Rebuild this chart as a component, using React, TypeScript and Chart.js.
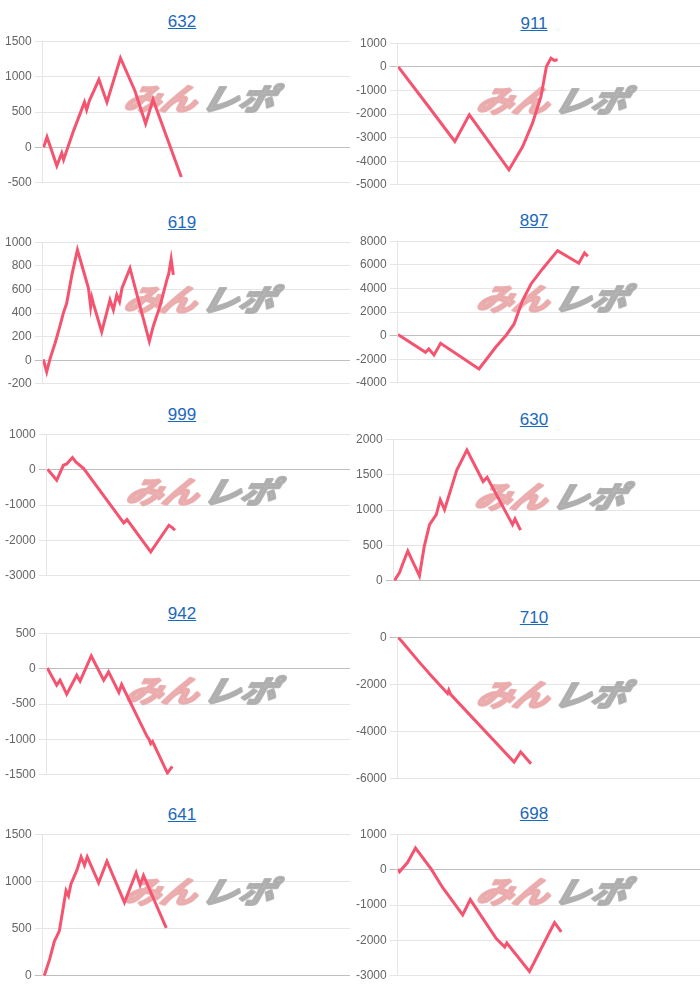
import React, { useEffect, useRef } from "react";
import { Chart, registerables } from "chart.js";

Chart.register(...registerables);

// x positions are expressed on a 0..1000 game-progress axis (shared x range)
const xs632 = [3, 14, 46, 62, 68, 100, 136, 143, 152, 183, 209, 253, 300, 335, 359, 451];
const v632 = [0, 146, -260, -80, -174, 230, 639, 530, 662, 958, 639, 1263, 800, 333, 676, -418];

const xs911 = [2, 100, 189, 237, 300, 368, 413, 446, 474, 492, 507, 518, 529];
const v911 = [0, -1650, -3163, -2033, -3150, -4363, -3389, -2386, -1257, 14, 367, 268, 296];

const xs619 = [2, 13, 24, 40, 54, 67, 78, 95, 113, 127, 149, 156, 160, 165, 192, 219, 230, 241, 250, 258, 284, 347, 360, 382, 404, 410, 418, 425];
const v619 = [6, -99, 14, 142, 270, 397, 482, 723, 936, 809, 610, 454, 530, 480, 241, 511, 426, 553, 496, 610, 780, 160, 290, 460, 681, 730, 857, 723];

const xs897 = [1, 92, 103, 120, 142, 269, 324, 358, 385, 413, 441, 479, 529, 599, 618, 629];
const v897 = [85, -1412, -1130, -1638, -650, -2824, -988, 0, 988, 2965, 4377, 5648, 7201, 6128, 7004, 6721];

const xs999 = [3, 33, 55, 66, 85, 96, 122, 215, 254, 265, 343, 403, 414, 423];
const v999 = [9, -301, 122, 160, 339, 216, 28, -1054, -1506, -1412, -2324, -1572, -1640, -1713];

const xs630 = [2, 19, 29, 46, 84, 100, 117, 139, 152, 166, 206, 239, 292, 305, 388, 396, 414];
const v630 = [0, 117, 234, 421, 70, 491, 794, 935, 1145, 1005, 1565, 1846, 1402, 1463, 794, 874, 715];

const xs942 = [2, 33, 44, 66, 99, 110, 147, 188, 204, 238, 247, 331, 337, 343, 349, 398, 414];
const v942 = [9, -234, -164, -361, -94, -178, 178, -164, -47, -337, -225, -960, -993, -1060, -1030, -1475, -1382];

const xs710 = [1, 14, 70, 114, 165, 169, 175, 385, 407, 441];
const v710 = [0, -184, -1035, -1673, -2382, -2240, -2420, -5289, -4864, -5360];

const xs641 = [5, 22, 38, 54, 76, 84, 92, 111, 125, 136, 145, 182, 209, 266, 304, 317, 328, 402];
const v641 = [0, 168, 365, 473, 902, 848, 974, 1117, 1260, 1171, 1260, 985, 1214, 777, 1092, 963, 1063, 508];

const xs698 = [0, 6, 33, 59, 111, 149, 215, 240, 326, 354, 361, 436, 503, 519, 541];
const v698 = [14, -62, 206, 608, 14, -512, -1277, -847, -1947, -2187, -2072, -2875, -1756, -1498, -1756];

const titles = ["632", "911", "619", "897", "999", "630", "942", "710", "641", "698"];
const yMins = [-500, -5000, -200, -4000, -3000, 0, -1500, -6000, 0, -3000];
const yMaxs = [1500, 1000, 1000, 8000, 1000, 2000, 500, 0, 1500, 1000];
const ySteps = [500, 1000, 200, 2000, 1000, 500, 500, 2000, 500, 1000];
const seriesX = [xs632, xs911, xs619, xs897, xs999, xs630, xs942, xs710, xs641, xs698];
const seriesY = [v632, v911, v619, v897, v999, v630, v942, v710, v641, v698];

// layout: plot tops and title centers per panel
const plotTops = [40.7, 43.3, 242.3, 240.7, 434, 439, 632.7, 637.3, 834.3, 834];
const titleYs = [21.7, 24, 222.7, 220.7, 415, 420, 614.3, 618.3, 815, 814.3];
const PLOT_H = 142;
const PAD = 10;

const watermark = {
  id: "watermark",
  beforeDatasetsDraw(chart: any) {
    const { ctx, chartArea } = chart;
    const cx = (chartArea.left + chartArea.right) / 2 + 4;
    const cy = (chartArea.top + chartArea.bottom) / 2 - 13;
    ctx.save();
    ctx.font = 'italic bold 30px "Noto Sans CJK JP"';
    const w1 = ctx.measureText("みん").width;
    const w2 = ctx.measureText("レポ").width;
    const gap = 4;
    const total = w1 + gap + w2;
    const sx = 150 / total;
    ctx.translate(cx, cy);
    ctx.scale(sx, 1);
    ctx.transform(1, 0, -0.22, 1, 0, 0);
    ctx.textBaseline = "middle";
    ctx.textAlign = "left";
    ctx.lineJoin = "round";
    ctx.lineWidth = 2.5;
    ctx.fillStyle = "rgba(234,168,170,0.9)";
    ctx.strokeStyle = "rgba(234,168,170,0.9)";
    ctx.fillText("みん", -total / 2, 0);
    ctx.strokeText("みん", -total / 2, 0);
    ctx.fillStyle = "rgba(172,172,172,0.9)";
    ctx.strokeStyle = "rgba(172,172,172,0.9)";
    ctx.fillText("レポ", -total / 2 + w1 + gap, 0);
    ctx.strokeText("レポ", -total / 2 + w1 + gap, 0);
    ctx.restore();
  },
};

function Panel({ idx }: { idx: number }) {
  const ref = useRef<HTMLCanvasElement | null>(null);
  useEffect(() => {
    if (!ref.current) return;
    const data = seriesX[idx].map((x, i) => ({ x, y: seriesY[idx][i] }));
    const chart = new Chart(ref.current, {
      type: "line",
      data: {
        datasets: [
          {
            data,
            borderColor: "rgb(244,84,112)",
            backgroundColor: "rgb(244,84,112)",
            borderWidth: 3,
            pointRadius: 0,
            tension: 0,
            fill: false,
          },
        ],
      },
      options: {
        animation: false,
        responsive: false,
        maintainAspectRatio: false,
        layout: { padding: { top: PAD, bottom: PAD, left: 0, right: 0 } },
        plugins: { legend: { display: false }, tooltip: { enabled: false }, title: { display: false } },
        scales: {
          x: { type: "linear", min: 0, max: 1000, display: false },
          y: {
            min: yMins[idx],
            max: yMaxs[idx],
            ticks: {
              stepSize: ySteps[idx],
              color: "#666",
              font: { family: "Arial, 'Liberation Sans', sans-serif", size: 12 },
              padding: 3,
              callback: (v: any) => String(v),
            },
            grid: {
              color: (c: any) => (c.tick && c.tick.value === 0 ? "rgba(0,0,0,0.25)" : "rgba(0,0,0,0.1)"),
              tickLength: 8,
            },
            border: { color: "rgba(0,0,0,0.1)" },
          },
        },
      },
      plugins: [watermark],
    });
    return () => chart.destroy();
  }, [idx]);

  const right = idx % 2 === 1;
  const left = right ? 353 : 2;
  const width = right ? 347 : 348;
  const top = plotTops[idx] - PAD;
  return (
    <>
      <div
        style={{
          position: "absolute",
          left: right ? 534 - 60 : 182 - 60,
          width: 120,
          top: titleYs[idx] - 10,
          height: 20,
          lineHeight: "20px",
          textAlign: "center",
          fontFamily: "Arial, 'Liberation Sans', sans-serif",
          fontSize: 17,
          color: "rgb(28,104,186)",
          textDecoration: "underline",
        }}
      >
        {titles[idx]}
      </div>
      <canvas
        ref={ref}
        width={width}
        height={PLOT_H + PAD * 2}
        style={{ position: "absolute", left, top, width, height: PLOT_H + PAD * 2 }}
      />
    </>
  );
}

export default function App() {
  useEffect(() => {
    document.body.style.margin = "0";
  }, []);
  return (
    <div style={{ position: "relative", width: 700, height: 987, background: "#fff", overflow: "hidden" }}>
      {titles.map((_, i) => (
        <Panel key={i} idx={i} />
      ))}
    </div>
  );
}
